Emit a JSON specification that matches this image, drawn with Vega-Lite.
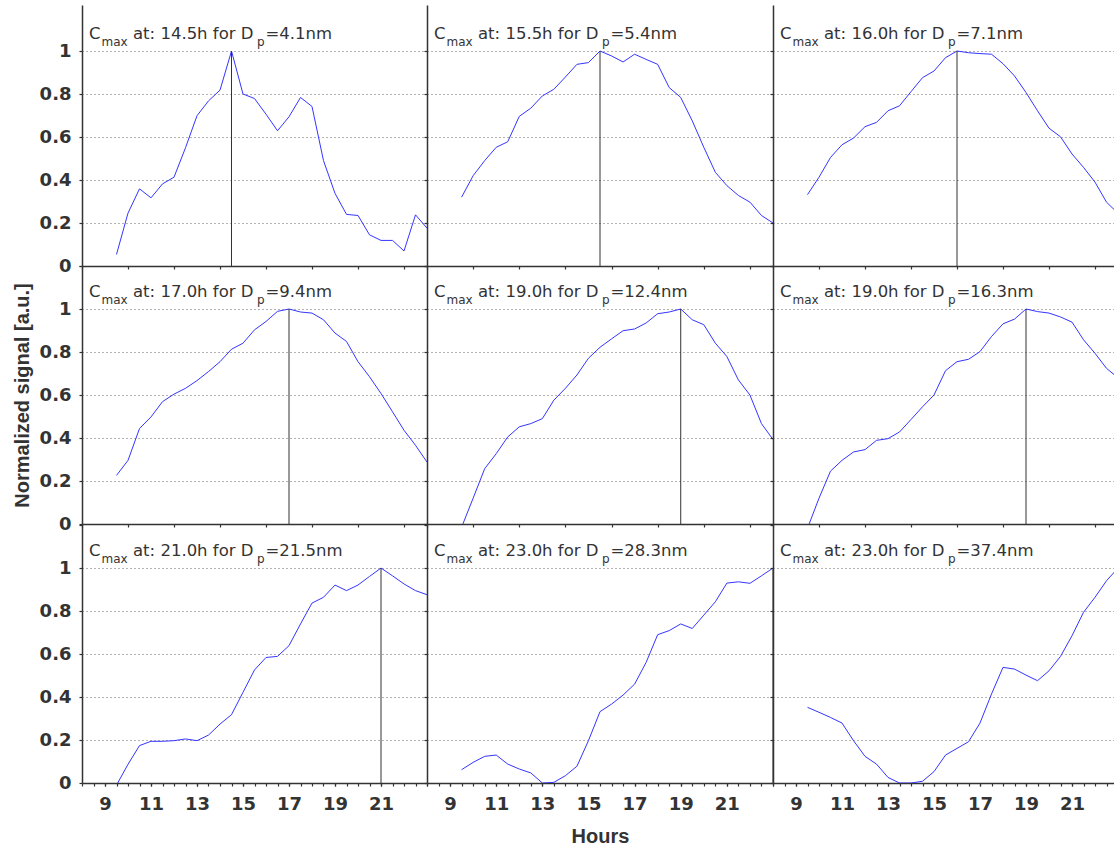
{
  "$schema": "https://vega.github.io/schema/vega-lite/v6.json",
  "background": "white",
  "padding": {"left": 12, "top": 5, "right": 0, "bottom": 0},
  "config": {
    "view": {"stroke": null},
    "concat": {"spacing": 0},
    "axis": {
      "domainColor": "#333333", "domainWidth": 1.5, "tickColor": "#333333", "tickWidth": 1.2, "tickSize": 3,
      "labelFont": "DejaVu Sans", "labelFontWeight": "bold", "labelFontSize": 18, "labelColor": "#333333",
      "titleFont": "Liberation Sans", "titleFontWeight": "bold", "titleFontSize": 20, "titleColor": "#333333",
      "gridColor": "#666666", "gridDash": [1, 3], "gridWidth": 1, "labelOverlap": false, "labelFlush": false, "labelBound": false
    },
    "axisX": {"labelPadding": 9, "titlePadding": 13, "grid": false},
    "axisY": {"labelPadding": 8, "titlePadding": 7},
    "text": {"font": "DejaVu Sans", "fontSize": 16.5, "color": "#333333", "align": "left", "baseline": "alphabetic"},
    "line": {"color": "#3535ff", "strokeWidth": 1},
    "rule": {"color": "#333333", "strokeWidth": 1}
  },
  "datasets": {
    "curves": [
      {"p":1,"h":9.5,"v":0.054},{"p":1,"h":10,"v":0.246},{"p":1,"h":10.5,"v":0.359},{"p":1,"h":11,"v":0.317},{"p":1,"h":11.5,"v":0.382},{"p":1,"h":12,"v":0.413},{"p":1,"h":12.5,"v":0.55},{"p":1,"h":13,"v":0.699},{"p":1,"h":13.5,"v":0.768},{"p":1,"h":14,"v":0.818},{"p":1,"h":14.5,"v":1.0},{"p":1,"h":15,"v":0.8},{"p":1,"h":15.5,"v":0.779},{"p":1,"h":16,"v":0.706},{"p":1,"h":16.5,"v":0.629},{"p":1,"h":17,"v":0.694},{"p":1,"h":17.5,"v":0.784},{"p":1,"h":18,"v":0.742},{"p":1,"h":18.5,"v":0.49},{"p":1,"h":19,"v":0.338},{"p":1,"h":19.5,"v":0.24},{"p":1,"h":20,"v":0.235},{"p":1,"h":20.5,"v":0.145},{"p":1,"h":21,"v":0.119},{"p":1,"h":21.5,"v":0.119},{"p":1,"h":22,"v":0.07},{"p":1,"h":22.5,"v":0.238},{"p":1,"h":23,"v":0.176},
      {"p":2,"h":9.5,"v":0.32},{"p":2,"h":10,"v":0.42},{"p":2,"h":10.5,"v":0.49},{"p":2,"h":11,"v":0.552},{"p":2,"h":11.5,"v":0.578},{"p":2,"h":12,"v":0.696},{"p":2,"h":12.5,"v":0.734},{"p":2,"h":13,"v":0.791},{"p":2,"h":13.5,"v":0.822},{"p":2,"h":14,"v":0.879},{"p":2,"h":14.5,"v":0.938},{"p":2,"h":15,"v":0.946},{"p":2,"h":15.5,"v":1.0},{"p":2,"h":16,"v":0.977},{"p":2,"h":16.5,"v":0.949},{"p":2,"h":17,"v":0.985},{"p":2,"h":17.5,"v":0.961},{"p":2,"h":18,"v":0.938},{"p":2,"h":18.5,"v":0.83},{"p":2,"h":19,"v":0.784},{"p":2,"h":19.5,"v":0.675},{"p":2,"h":20,"v":0.552},{"p":2,"h":20.5,"v":0.436},{"p":2,"h":21,"v":0.374},{"p":2,"h":21.5,"v":0.328},{"p":2,"h":22,"v":0.297},{"p":2,"h":22.5,"v":0.235},{"p":2,"h":23,"v":0.2},
      {"p":3,"h":9.5,"v":0.332},{"p":3,"h":10,"v":0.413},{"p":3,"h":10.5,"v":0.505},{"p":3,"h":11,"v":0.564},{"p":3,"h":11.5,"v":0.595},{"p":3,"h":12,"v":0.648},{"p":3,"h":12.5,"v":0.668},{"p":3,"h":13,"v":0.722},{"p":3,"h":13.5,"v":0.745},{"p":3,"h":14,"v":0.811},{"p":3,"h":14.5,"v":0.876},{"p":3,"h":15,"v":0.907},{"p":3,"h":15.5,"v":0.969},{"p":3,"h":16,"v":1.0},{"p":3,"h":16.5,"v":0.992},{"p":3,"h":17,"v":0.988},{"p":3,"h":17.5,"v":0.985},{"p":3,"h":18,"v":0.941},{"p":3,"h":18.5,"v":0.884},{"p":3,"h":19,"v":0.807},{"p":3,"h":19.5,"v":0.722},{"p":3,"h":20,"v":0.641},{"p":3,"h":20.5,"v":0.601},{"p":3,"h":21,"v":0.521},{"p":3,"h":21.5,"v":0.459},{"p":3,"h":22,"v":0.39},{"p":3,"h":22.5,"v":0.297},{"p":3,"h":23,"v":0.245},
      {"p":4,"h":9.5,"v":0.226},{"p":4,"h":10,"v":0.296},{"p":4,"h":10.5,"v":0.444},{"p":4,"h":11,"v":0.498},{"p":4,"h":11.5,"v":0.569},{"p":4,"h":12,"v":0.604},{"p":4,"h":12.5,"v":0.631},{"p":4,"h":13,"v":0.667},{"p":4,"h":13.5,"v":0.709},{"p":4,"h":14,"v":0.755},{"p":4,"h":14.5,"v":0.813},{"p":4,"h":15,"v":0.841},{"p":4,"h":15.5,"v":0.903},{"p":4,"h":16,"v":0.942},{"p":4,"h":16.5,"v":0.989},{"p":4,"h":17,"v":1.0},{"p":4,"h":17.5,"v":0.986},{"p":4,"h":18,"v":0.981},{"p":4,"h":18.5,"v":0.95},{"p":4,"h":19,"v":0.888},{"p":4,"h":19.5,"v":0.849},{"p":4,"h":20,"v":0.755},{"p":4,"h":20.5,"v":0.685},{"p":4,"h":21,"v":0.607},{"p":4,"h":21.5,"v":0.522},{"p":4,"h":22,"v":0.436},{"p":4,"h":22.5,"v":0.366},{"p":4,"h":23,"v":0.288},
      {"p":5,"h":9.5,"v":-0.015},{"p":5,"h":10,"v":0.12},{"p":5,"h":10.5,"v":0.257},{"p":5,"h":11,"v":0.327},{"p":5,"h":11.5,"v":0.405},{"p":5,"h":12,"v":0.452},{"p":5,"h":12.5,"v":0.467},{"p":5,"h":13,"v":0.49},{"p":5,"h":13.5,"v":0.576},{"p":5,"h":14,"v":0.631},{"p":5,"h":14.5,"v":0.693},{"p":5,"h":15,"v":0.771},{"p":5,"h":15.5,"v":0.822},{"p":5,"h":16,"v":0.861},{"p":5,"h":16.5,"v":0.899},{"p":5,"h":17,"v":0.907},{"p":5,"h":17.5,"v":0.935},{"p":5,"h":18,"v":0.978},{"p":5,"h":18.5,"v":0.986},{"p":5,"h":19,"v":1.0},{"p":5,"h":19.5,"v":0.95},{"p":5,"h":20,"v":0.927},{"p":5,"h":20.5,"v":0.841},{"p":5,"h":21,"v":0.779},{"p":5,"h":21.5,"v":0.67},{"p":5,"h":22,"v":0.6},{"p":5,"h":22.5,"v":0.467},{"p":5,"h":23,"v":0.393},
      {"p":6,"h":9.5,"v":-0.02},{"p":6,"h":10,"v":0.12},{"p":6,"h":10.5,"v":0.246},{"p":6,"h":11,"v":0.296},{"p":6,"h":11.5,"v":0.335},{"p":6,"h":12,"v":0.346},{"p":6,"h":12.5,"v":0.389},{"p":6,"h":13,"v":0.397},{"p":6,"h":13.5,"v":0.428},{"p":6,"h":14,"v":0.486},{"p":6,"h":14.5,"v":0.545},{"p":6,"h":15,"v":0.6},{"p":6,"h":15.5,"v":0.713},{"p":6,"h":16,"v":0.755},{"p":6,"h":16.5,"v":0.766},{"p":6,"h":17,"v":0.802},{"p":6,"h":17.5,"v":0.872},{"p":6,"h":18,"v":0.931},{"p":6,"h":18.5,"v":0.953},{"p":6,"h":19,"v":1.0},{"p":6,"h":19.5,"v":0.988},{"p":6,"h":20,"v":0.981},{"p":6,"h":20.5,"v":0.963},{"p":6,"h":21,"v":0.939},{"p":6,"h":21.5,"v":0.857},{"p":6,"h":22,"v":0.794},{"p":6,"h":22.5,"v":0.724},{"p":6,"h":23,"v":0.68},
      {"p":7,"h":9.5,"v":-0.01},{"p":7,"h":10,"v":0.087},{"p":7,"h":10.5,"v":0.174},{"p":7,"h":11,"v":0.194},{"p":7,"h":11.5,"v":0.194},{"p":7,"h":12,"v":0.197},{"p":7,"h":12.5,"v":0.205},{"p":7,"h":13,"v":0.197},{"p":7,"h":13.5,"v":0.223},{"p":7,"h":14,"v":0.274},{"p":7,"h":14.5,"v":0.318},{"p":7,"h":15,"v":0.422},{"p":7,"h":15.5,"v":0.526},{"p":7,"h":16,"v":0.584},{"p":7,"h":16.5,"v":0.589},{"p":7,"h":17,"v":0.639},{"p":7,"h":17.5,"v":0.74},{"p":7,"h":18,"v":0.837},{"p":7,"h":18.5,"v":0.864},{"p":7,"h":19,"v":0.921},{"p":7,"h":19.5,"v":0.895},{"p":7,"h":20,"v":0.921},{"p":7,"h":20.5,"v":0.961},{"p":7,"h":21,"v":1.0},{"p":7,"h":21.5,"v":0.964},{"p":7,"h":22,"v":0.926},{"p":7,"h":22.5,"v":0.895},{"p":7,"h":23,"v":0.876},
      {"p":8,"h":9.5,"v":0.062},{"p":8,"h":10,"v":0.096},{"p":8,"h":10.5,"v":0.124},{"p":8,"h":11,"v":0.13},{"p":8,"h":11.5,"v":0.088},{"p":8,"h":12,"v":0.065},{"p":8,"h":12.5,"v":0.047},{"p":8,"h":13,"v":0.0},{"p":8,"h":13.5,"v":0.003},{"p":8,"h":14,"v":0.034},{"p":8,"h":14.5,"v":0.078},{"p":8,"h":15,"v":0.197},{"p":8,"h":15.5,"v":0.332},{"p":8,"h":16,"v":0.367},{"p":8,"h":16.5,"v":0.409},{"p":8,"h":17,"v":0.46},{"p":8,"h":17.5,"v":0.561},{"p":8,"h":18,"v":0.69},{"p":8,"h":18.5,"v":0.709},{"p":8,"h":19,"v":0.74},{"p":8,"h":19.5,"v":0.719},{"p":8,"h":20,"v":0.781},{"p":8,"h":20.5,"v":0.843},{"p":8,"h":21,"v":0.93},{"p":8,"h":21.5,"v":0.936},{"p":8,"h":22,"v":0.929},{"p":8,"h":22.5,"v":0.964},{"p":8,"h":23,"v":1.0},
      {"p":9,"h":9.5,"v":0.352},{"p":9,"h":10,"v":0.329},{"p":9,"h":10.5,"v":0.305},{"p":9,"h":11,"v":0.279},{"p":9,"h":11.5,"v":0.197},{"p":9,"h":12,"v":0.124},{"p":9,"h":12.5,"v":0.088},{"p":9,"h":13,"v":0.026},{"p":9,"h":13.5,"v":0.0},{"p":9,"h":14,"v":0.0},{"p":9,"h":14.5,"v":0.008},{"p":9,"h":15,"v":0.053},{"p":9,"h":15.5,"v":0.13},{"p":9,"h":16,"v":0.161},{"p":9,"h":16.5,"v":0.192},{"p":9,"h":17,"v":0.279},{"p":9,"h":17.5,"v":0.414},{"p":9,"h":18,"v":0.538},{"p":9,"h":18.5,"v":0.53},{"p":9,"h":19,"v":0.502},{"p":9,"h":19.5,"v":0.476},{"p":9,"h":20,"v":0.522},{"p":9,"h":20.5,"v":0.589},{"p":9,"h":21,"v":0.685},{"p":9,"h":21.5,"v":0.794},{"p":9,"h":22,"v":0.864},{"p":9,"h":22.5,"v":0.941},{"p":9,"h":23,"v":1.0}
    ],
    "info": [
      {"p":1,"t":14.5,"a":"at: 14.5h for D","b":"=4.1nm"},
      {"p":2,"t":15.5,"a":"at: 15.5h for D","b":"=5.4nm"},
      {"p":3,"t":16.0,"a":"at: 16.0h for D","b":"=7.1nm"},
      {"p":4,"t":17.0,"a":"at: 17.0h for D","b":"=9.4nm"},
      {"p":5,"t":19.0,"a":"at: 19.0h for D","b":"=12.4nm"},
      {"p":6,"t":19.0,"a":"at: 19.0h for D","b":"=16.3nm"},
      {"p":7,"t":21.0,"a":"at: 21.0h for D","b":"=21.5nm"},
      {"p":8,"t":23.0,"a":"at: 23.0h for D","b":"=28.3nm"},
      {"p":9,"t":23.0,"a":"at: 23.0h for D","b":"=37.4nm"}
    ]
  },
  "columns": 3,
  "spacing": 0,
  "bounds": "flush",
  "concat": [
    {"width": 345, "height": 261, "layer": [
      {"data": {"name": "curves"}, "transform": [{"filter": "datum.p == 1"}], "mark": {"type": "line", "clip": true},
       "encoding": {
         "x": {"field": "h", "type": "quantitative", "scale": {"domain": [8, 23], "nice": false, "zero": false},
               "axis": {"values": [8,8.5,9,9.5,10,10.5,11,11.5,12,12.5,13,13.5,14,14.5,15,15.5,16,16.5,17,17.5,18,18.5,19,19.5,20,20.5,21,21.5,22,22.5,23], "labels": false, "title": null}},
         "y": {"field": "v", "type": "quantitative", "scale": {"domain": [0, 1.214], "nice": false, "zero": false},
               "axis": {"values": [0,0.05,0.1,0.15,0.2,0.25,0.3,0.35,0.4,0.45,0.5,0.55,0.6,0.65,0.7,0.75,0.8,0.85,0.9,0.95,1,1.05,1.1,1.15], "title": null, "grid": true,
                        "labelExpr": "round(datum.value*20) % 4 == 0 && datum.value < 1.1 ? format(datum.value, '~g') : ''",
                        "gridOpacity": {"condition": {"test": "round(datum.value*20) % 4 == 0 && datum.value > 0.1 && datum.value < 1.1", "value": 1}, "value": 0}}}
       }},
      {"data": {"name": "info"}, "transform": [{"filter": "datum.p == 1"}], "mark": {"type": "rule", "clip": true},
       "encoding": {"x": {"field": "t", "type": "quantitative"}, "y": {"datum": 0}, "y2": {"datum": 1}}},
      {"data": {"name": "info"}, "transform": [{"filter": "datum.p == 1"}],
       "encoding": {"x": {"datum": 8}, "y": {"datum": 1.055}},
       "layer": [
         {"mark": {"type": "text", "text": "C", "dx": 7}},
         {"mark": {"type": "text", "text": "max", "dx": 19.5, "dy": 7, "fontSize": 12}},
         {"mark": {"type": "text", "dx": 51}, "encoding": {"text": {"field": "a"}}},
         {"mark": {"type": "text", "text": "p", "dx": 175, "dy": 7, "fontSize": 12}},
         {"mark": {"type": "text", "dx": 183.5}, "encoding": {"text": {"field": "b"}}}
       ]}
    ]},
    {"width": 346, "height": 261, "layer": [
      {"data": {"name": "curves"}, "transform": [{"filter": "datum.p == 2"}], "mark": {"type": "line", "clip": true},
       "encoding": {
         "x": {"field": "h", "type": "quantitative", "scale": {"domain": [8, 23], "nice": false, "zero": false},
               "axis": {"values": [8,8.5,9,9.5,10,10.5,11,11.5,12,12.5,13,13.5,14,14.5,15,15.5,16,16.5,17,17.5,18,18.5,19,19.5,20,20.5,21,21.5,22,22.5,23], "labels": false, "title": null}},
         "y": {"field": "v", "type": "quantitative", "scale": {"domain": [0, 1.214], "nice": false, "zero": false},
               "axis": {"values": [0,0.05,0.1,0.15,0.2,0.25,0.3,0.35,0.4,0.45,0.5,0.55,0.6,0.65,0.7,0.75,0.8,0.85,0.9,0.95,1,1.05,1.1,1.15], "title": null, "grid": true, "labels": false,
                        "gridOpacity": {"condition": {"test": "round(datum.value*20) % 4 == 0 && datum.value > 0.1 && datum.value < 1.1", "value": 1}, "value": 0}}}
       }},
      {"data": {"name": "info"}, "transform": [{"filter": "datum.p == 2"}], "mark": {"type": "rule", "clip": true},
       "encoding": {"x": {"field": "t", "type": "quantitative"}, "y": {"datum": 0}, "y2": {"datum": 1}}},
      {"data": {"name": "info"}, "transform": [{"filter": "datum.p == 2"}],
       "encoding": {"x": {"datum": 8}, "y": {"datum": 1.055}},
       "layer": [
         {"mark": {"type": "text", "text": "C", "dx": 7}},
         {"mark": {"type": "text", "text": "max", "dx": 19.5, "dy": 7, "fontSize": 12}},
         {"mark": {"type": "text", "dx": 51}, "encoding": {"text": {"field": "a"}}},
         {"mark": {"type": "text", "text": "p", "dx": 175, "dy": 7, "fontSize": 12}},
         {"mark": {"type": "text", "dx": 183.5}, "encoding": {"text": {"field": "b"}}}
       ]}
    ]},
    {"width": 341, "height": 261, "layer": [
      {"data": {"name": "curves"}, "transform": [{"filter": "datum.p == 3"}], "mark": {"type": "line", "clip": true},
       "encoding": {
         "x": {"field": "h", "type": "quantitative", "scale": {"domain": [8, 22.826], "nice": false, "zero": false},
               "axis": {"values": [8,8.5,9,9.5,10,10.5,11,11.5,12,12.5,13,13.5,14,14.5,15,15.5,16,16.5,17,17.5,18,18.5,19,19.5,20,20.5,21,21.5,22,22.5], "labels": false, "title": null}},
         "y": {"field": "v", "type": "quantitative", "scale": {"domain": [0, 1.214], "nice": false, "zero": false},
               "axis": {"values": [0,0.05,0.1,0.15,0.2,0.25,0.3,0.35,0.4,0.45,0.5,0.55,0.6,0.65,0.7,0.75,0.8,0.85,0.9,0.95,1,1.05,1.1,1.15], "title": null, "grid": true, "labels": false,
                        "gridOpacity": {"condition": {"test": "round(datum.value*20) % 4 == 0 && datum.value > 0.1 && datum.value < 1.1", "value": 1}, "value": 0}}}
       }},
      {"data": {"name": "info"}, "transform": [{"filter": "datum.p == 3"}], "mark": {"type": "rule", "clip": true},
       "encoding": {"x": {"field": "t", "type": "quantitative"}, "y": {"datum": 0}, "y2": {"datum": 1}}},
      {"data": {"name": "info"}, "transform": [{"filter": "datum.p == 3"}],
       "encoding": {"x": {"datum": 8}, "y": {"datum": 1.055}},
       "layer": [
         {"mark": {"type": "text", "text": "C", "dx": 7}},
         {"mark": {"type": "text", "text": "max", "dx": 19.5, "dy": 7, "fontSize": 12}},
         {"mark": {"type": "text", "dx": 51}, "encoding": {"text": {"field": "a"}}},
         {"mark": {"type": "text", "text": "p", "dx": 175, "dy": 7, "fontSize": 12}},
         {"mark": {"type": "text", "dx": 183.5}, "encoding": {"text": {"field": "b"}}}
       ]}
    ]},
    {"width": 345, "height": 258, "layer": [
      {"data": {"name": "curves"}, "transform": [{"filter": "datum.p == 4"}], "mark": {"type": "line", "clip": true},
       "encoding": {
         "x": {"field": "h", "type": "quantitative", "scale": {"domain": [8, 23], "nice": false, "zero": false},
               "axis": {"values": [8,8.5,9,9.5,10,10.5,11,11.5,12,12.5,13,13.5,14,14.5,15,15.5,16,16.5,17,17.5,18,18.5,19,19.5,20,20.5,21,21.5,22,22.5,23], "labels": false, "title": null}},
         "y": {"field": "v", "type": "quantitative", "scale": {"domain": [0, 1.2], "nice": false, "zero": false},
               "axis": {"values": [0,0.05,0.1,0.15,0.2,0.25,0.3,0.35,0.4,0.45,0.5,0.55,0.6,0.65,0.7,0.75,0.8,0.85,0.9,0.95,1,1.05,1.1,1.15,1.2], "title": "Normalized signal [a.u.]", "grid": true,
                        "labelExpr": "round(datum.value*20) % 4 == 0 && datum.value < 1.1 ? format(datum.value, '~g') : ''",
                        "gridOpacity": {"condition": {"test": "round(datum.value*20) % 4 == 0 && datum.value > 0.1 && datum.value < 1.1", "value": 1}, "value": 0}}}
       }},
      {"data": {"name": "info"}, "transform": [{"filter": "datum.p == 4"}], "mark": {"type": "rule", "clip": true},
       "encoding": {"x": {"field": "t", "type": "quantitative"}, "y": {"datum": 0}, "y2": {"datum": 1}}},
      {"data": {"name": "info"}, "transform": [{"filter": "datum.p == 4"}],
       "encoding": {"x": {"datum": 8}, "y": {"datum": 1.055}},
       "layer": [
         {"mark": {"type": "text", "text": "C", "dx": 7}},
         {"mark": {"type": "text", "text": "max", "dx": 19.5, "dy": 7, "fontSize": 12}},
         {"mark": {"type": "text", "dx": 51}, "encoding": {"text": {"field": "a"}}},
         {"mark": {"type": "text", "text": "p", "dx": 175, "dy": 7, "fontSize": 12}},
         {"mark": {"type": "text", "dx": 183.5}, "encoding": {"text": {"field": "b"}}}
       ]}
    ]},
    {"width": 346, "height": 258, "layer": [
      {"data": {"name": "curves"}, "transform": [{"filter": "datum.p == 5"}], "mark": {"type": "line", "clip": true},
       "encoding": {
         "x": {"field": "h", "type": "quantitative", "scale": {"domain": [8, 23], "nice": false, "zero": false},
               "axis": {"values": [8,8.5,9,9.5,10,10.5,11,11.5,12,12.5,13,13.5,14,14.5,15,15.5,16,16.5,17,17.5,18,18.5,19,19.5,20,20.5,21,21.5,22,22.5,23], "labels": false, "title": null}},
         "y": {"field": "v", "type": "quantitative", "scale": {"domain": [0, 1.2], "nice": false, "zero": false},
               "axis": {"values": [0,0.05,0.1,0.15,0.2,0.25,0.3,0.35,0.4,0.45,0.5,0.55,0.6,0.65,0.7,0.75,0.8,0.85,0.9,0.95,1,1.05,1.1,1.15,1.2], "title": null, "grid": true, "labels": false,
                        "gridOpacity": {"condition": {"test": "round(datum.value*20) % 4 == 0 && datum.value > 0.1 && datum.value < 1.1", "value": 1}, "value": 0}}}
       }},
      {"data": {"name": "info"}, "transform": [{"filter": "datum.p == 5"}], "mark": {"type": "rule", "clip": true},
       "encoding": {"x": {"field": "t", "type": "quantitative"}, "y": {"datum": 0}, "y2": {"datum": 1}}},
      {"data": {"name": "info"}, "transform": [{"filter": "datum.p == 5"}],
       "encoding": {"x": {"datum": 8}, "y": {"datum": 1.055}},
       "layer": [
         {"mark": {"type": "text", "text": "C", "dx": 7}},
         {"mark": {"type": "text", "text": "max", "dx": 19.5, "dy": 7, "fontSize": 12}},
         {"mark": {"type": "text", "dx": 51}, "encoding": {"text": {"field": "a"}}},
         {"mark": {"type": "text", "text": "p", "dx": 175, "dy": 7, "fontSize": 12}},
         {"mark": {"type": "text", "dx": 183.5}, "encoding": {"text": {"field": "b"}}}
       ]}
    ]},
    {"width": 341, "height": 258, "layer": [
      {"data": {"name": "curves"}, "transform": [{"filter": "datum.p == 6"}], "mark": {"type": "line", "clip": true},
       "encoding": {
         "x": {"field": "h", "type": "quantitative", "scale": {"domain": [8, 22.826], "nice": false, "zero": false},
               "axis": {"values": [8,8.5,9,9.5,10,10.5,11,11.5,12,12.5,13,13.5,14,14.5,15,15.5,16,16.5,17,17.5,18,18.5,19,19.5,20,20.5,21,21.5,22,22.5], "labels": false, "title": null}},
         "y": {"field": "v", "type": "quantitative", "scale": {"domain": [0, 1.2], "nice": false, "zero": false},
               "axis": {"values": [0,0.05,0.1,0.15,0.2,0.25,0.3,0.35,0.4,0.45,0.5,0.55,0.6,0.65,0.7,0.75,0.8,0.85,0.9,0.95,1,1.05,1.1,1.15,1.2], "title": null, "grid": true, "labels": false,
                        "gridOpacity": {"condition": {"test": "round(datum.value*20) % 4 == 0 && datum.value > 0.1 && datum.value < 1.1", "value": 1}, "value": 0}}}
       }},
      {"data": {"name": "info"}, "transform": [{"filter": "datum.p == 6"}], "mark": {"type": "rule", "clip": true},
       "encoding": {"x": {"field": "t", "type": "quantitative"}, "y": {"datum": 0}, "y2": {"datum": 1}}},
      {"data": {"name": "info"}, "transform": [{"filter": "datum.p == 6"}],
       "encoding": {"x": {"datum": 8}, "y": {"datum": 1.055}},
       "layer": [
         {"mark": {"type": "text", "text": "C", "dx": 7}},
         {"mark": {"type": "text", "text": "max", "dx": 19.5, "dy": 7, "fontSize": 12}},
         {"mark": {"type": "text", "dx": 51}, "encoding": {"text": {"field": "a"}}},
         {"mark": {"type": "text", "text": "p", "dx": 175, "dy": 7, "fontSize": 12}},
         {"mark": {"type": "text", "dx": 183.5}, "encoding": {"text": {"field": "b"}}}
       ]}
    ]},
    {"width": 345, "height": 259, "resolve": {"axis": {"x": "independent"}}, "layer": [
      {"data": {"name": "curves"}, "transform": [{"filter": "datum.p == 7"}], "mark": {"type": "line", "clip": true},
       "encoding": {
         "x": {"field": "h", "type": "quantitative", "scale": {"domain": [8, 23], "nice": false, "zero": false},
               "axis": {"orient": "bottom", "values": [8,8.5,9,9.5,10,10.5,11,11.5,12,12.5,13,13.5,14,14.5,15,15.5,16,16.5,17,17.5,18,18.5,19,19.5,20,20.5,21,21.5,22,22.5,23], "labels": false, "title": null}},
         "y": {"field": "v", "type": "quantitative", "scale": {"domain": [0, 1.205], "nice": false, "zero": false},
               "axis": {"values": [0,0.05,0.1,0.15,0.2,0.25,0.3,0.35,0.4,0.45,0.5,0.55,0.6,0.65,0.7,0.75,0.8,0.85,0.9,0.95,1,1.05,1.1,1.15,1.2], "title": null, "grid": true,
                        "labelExpr": "round(datum.value*20) % 4 == 0 && datum.value < 1.1 ? format(datum.value, '~g') : ''",
                        "gridOpacity": {"condition": {"test": "round(datum.value*20) % 4 == 0 && datum.value > 0.1 && datum.value < 1.1", "value": 1}, "value": 0}}}
       }},
      {"data": {"name": "info"}, "transform": [{"filter": "datum.p == 7"}], "mark": {"type": "rule", "clip": true},
       "encoding": {"x": {"field": "t", "type": "quantitative", "axis": {"orient": "bottom", "values": [9,11,13,15,17,19,21], "title": null, "domain": false}},
                    "y": {"datum": 0}, "y2": {"datum": 1}}},
      {"data": {"name": "info"}, "transform": [{"filter": "datum.p == 7"}],
       "encoding": {"x": {"datum": 8, "axis": null}, "y": {"datum": 1.055}},
       "layer": [
         {"mark": {"type": "text", "text": "C", "dx": 7}},
         {"mark": {"type": "text", "text": "max", "dx": 19.5, "dy": 7, "fontSize": 12}},
         {"mark": {"type": "text", "dx": 51}, "encoding": {"text": {"field": "a"}}},
         {"mark": {"type": "text", "text": "p", "dx": 175, "dy": 7, "fontSize": 12}},
         {"mark": {"type": "text", "dx": 183.5}, "encoding": {"text": {"field": "b"}}}
       ]}
    ]},
    {"width": 346, "height": 259, "resolve": {"axis": {"x": "independent"}}, "layer": [
      {"data": {"name": "curves"}, "transform": [{"filter": "datum.p == 8"}], "mark": {"type": "line", "clip": true},
       "encoding": {
         "x": {"field": "h", "type": "quantitative", "scale": {"domain": [8, 23], "nice": false, "zero": false},
               "axis": {"orient": "bottom", "values": [8,8.5,9,9.5,10,10.5,11,11.5,12,12.5,13,13.5,14,14.5,15,15.5,16,16.5,17,17.5,18,18.5,19,19.5,20,20.5,21,21.5,22,22.5,23], "labels": false, "title": null}},
         "y": {"field": "v", "type": "quantitative", "scale": {"domain": [0, 1.205], "nice": false, "zero": false},
               "axis": {"values": [0,0.05,0.1,0.15,0.2,0.25,0.3,0.35,0.4,0.45,0.5,0.55,0.6,0.65,0.7,0.75,0.8,0.85,0.9,0.95,1,1.05,1.1,1.15,1.2], "title": null, "grid": true, "labels": false,
                        "gridOpacity": {"condition": {"test": "round(datum.value*20) % 4 == 0 && datum.value > 0.1 && datum.value < 1.1", "value": 1}, "value": 0}}}
       }},
      {"data": {"name": "info"}, "transform": [{"filter": "datum.p == 8"}], "mark": {"type": "rule", "clip": true},
       "encoding": {"x": {"field": "t", "type": "quantitative", "axis": {"orient": "bottom", "values": [9,11,13,15,17,19,21], "title": "Hours", "domain": false}},
                    "y": {"datum": 0}, "y2": {"datum": 1}}},
      {"data": {"name": "info"}, "transform": [{"filter": "datum.p == 8"}],
       "encoding": {"x": {"datum": 8, "axis": null}, "y": {"datum": 1.055}},
       "layer": [
         {"mark": {"type": "text", "text": "C", "dx": 7}},
         {"mark": {"type": "text", "text": "max", "dx": 19.5, "dy": 7, "fontSize": 12}},
         {"mark": {"type": "text", "dx": 51}, "encoding": {"text": {"field": "a"}}},
         {"mark": {"type": "text", "text": "p", "dx": 175, "dy": 7, "fontSize": 12}},
         {"mark": {"type": "text", "dx": 183.5}, "encoding": {"text": {"field": "b"}}}
       ]}
    ]},
    {"width": 341, "height": 259, "resolve": {"axis": {"x": "independent"}}, "layer": [
      {"data": {"name": "curves"}, "transform": [{"filter": "datum.p == 9"}], "mark": {"type": "line", "clip": true},
       "encoding": {
         "x": {"field": "h", "type": "quantitative", "scale": {"domain": [8, 22.826], "nice": false, "zero": false},
               "axis": {"orient": "bottom", "values": [8,8.5,9,9.5,10,10.5,11,11.5,12,12.5,13,13.5,14,14.5,15,15.5,16,16.5,17,17.5,18,18.5,19,19.5,20,20.5,21,21.5,22,22.5], "labels": false, "title": null}},
         "y": {"field": "v", "type": "quantitative", "scale": {"domain": [0, 1.205], "nice": false, "zero": false},
               "axis": {"values": [0,0.05,0.1,0.15,0.2,0.25,0.3,0.35,0.4,0.45,0.5,0.55,0.6,0.65,0.7,0.75,0.8,0.85,0.9,0.95,1,1.05,1.1,1.15,1.2], "title": null, "grid": true, "labels": false,
                        "gridOpacity": {"condition": {"test": "round(datum.value*20) % 4 == 0 && datum.value > 0.1 && datum.value < 1.1", "value": 1}, "value": 0}}}
       }},
      {"data": {"name": "info"}, "transform": [{"filter": "datum.p == 9"}], "mark": {"type": "rule", "clip": true},
       "encoding": {"x": {"field": "t", "type": "quantitative", "axis": {"orient": "bottom", "values": [9,11,13,15,17,19,21], "title": null, "domain": false}},
                    "y": {"datum": 0}, "y2": {"datum": 1}}},
      {"data": {"name": "info"}, "transform": [{"filter": "datum.p == 9"}],
       "encoding": {"x": {"datum": 8, "axis": null}, "y": {"datum": 1.055}},
       "layer": [
         {"mark": {"type": "text", "text": "C", "dx": 7}},
         {"mark": {"type": "text", "text": "max", "dx": 19.5, "dy": 7, "fontSize": 12}},
         {"mark": {"type": "text", "dx": 51}, "encoding": {"text": {"field": "a"}}},
         {"mark": {"type": "text", "text": "p", "dx": 175, "dy": 7, "fontSize": 12}},
         {"mark": {"type": "text", "dx": 183.5}, "encoding": {"text": {"field": "b"}}}
       ]}
    ]}
  ]
}
